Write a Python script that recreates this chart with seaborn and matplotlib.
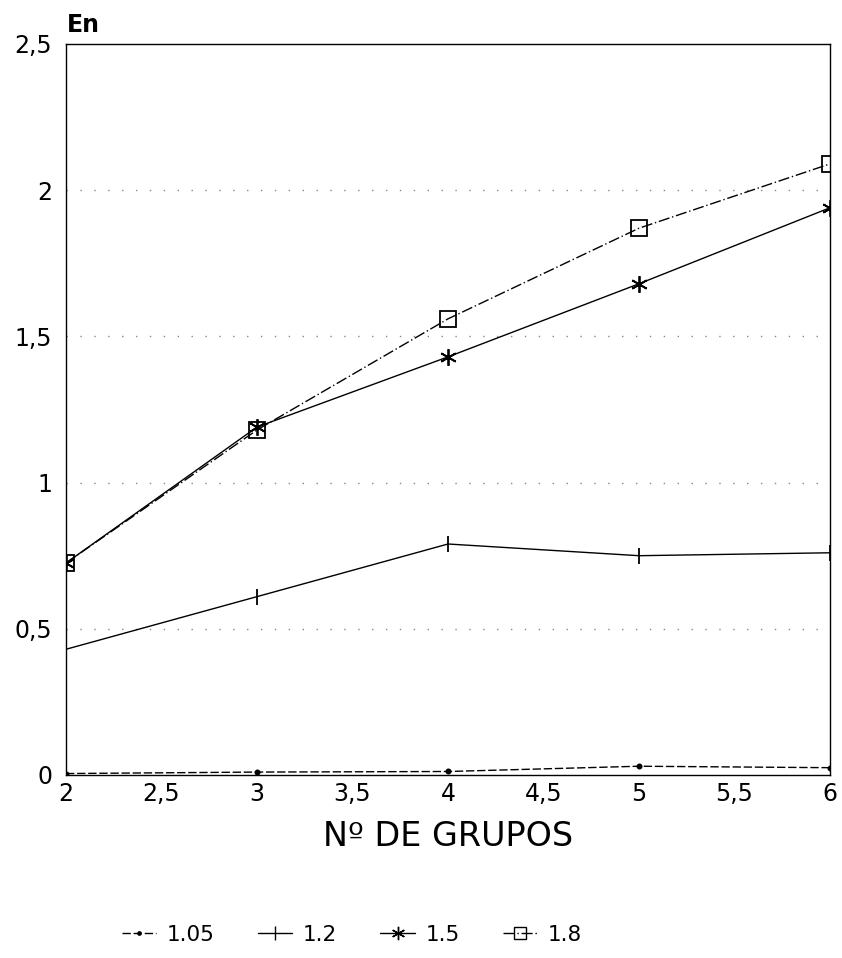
import matplotlib
matplotlib.use("Agg")
import matplotlib.pyplot as plt
import seaborn as sns
import pandas as pd
from matplotlib.ticker import FuncFormatter
from matplotlib.lines import Line2D

# ---- data ----
grupos = [2, 3, 4, 5, 6]
serie_labels = ["1.05", "1.2", "1.5", "1.8"]
en_105 = [0.005, 0.01, 0.012, 0.03, 0.025]
en_12 = [0.43, 0.61, 0.79, 0.75, 0.76]
en_15 = [0.725, 1.19, 1.43, 1.68, 1.94]
en_18 = [0.725, 1.18, 1.56, 1.87, 2.09]
x_ticks = [2, 2.5, 3, 3.5, 4, 4.5, 5, 5.5, 6]
y_ticks = [0, 0.5, 1, 1.5, 2, 2.5]

series = [en_105, en_12, en_15, en_18]
df = pd.DataFrame({
    "grupos": grupos * len(series),
    "En": sum(series, []),
    "serie": [lab for lab in serie_labels for _ in grupos],
})

sns.set_theme(style="white")
plt.rcParams["font.family"] = ["DejaVu Sans"]
plt.rcParams["text.color"] = "black"

fig = plt.figure(figsize=(8.42, 9.58), dpi=100)
ax = fig.add_axes([66 / 842, 1 - 775 / 958, (830 - 66) / 842, (775 - 44) / 958])

markers = {"1.05": "o", "1.2": "|", "1.5": (6, 2, 0), "1.8": "s"}
dashes = {"1.05": (6, 2), "1.2": "", "1.5": "", "1.8": (8, 2, 1, 2)}
msize = {"1.05": 3, "1.2": 12, "1.5": 12, "1.8": 11}

for lab in serie_labels:
    sub = df[df["serie"] == lab]
    sns.lineplot(data=sub, x="grupos", y="En", ax=ax, color="black",
                 linewidth=1.0, marker=markers[lab], markersize=msize[lab],
                 markerfacecolor="none" if lab == "1.8" else "black",
                 markeredgecolor="black", markeredgewidth=1.3,
                 dashes=dashes[lab] if dashes[lab] else (None, None),
                 label=lab, legend=False)

ax.set_xlim(2, 6)
ax.set_ylim(0, 2.5)
ax.set_xticks(x_ticks)
ax.set_yticks(y_ticks)
fmt = FuncFormatter(lambda v, p: (f"{v:g}").replace(".", ","))
ax.xaxis.set_major_formatter(fmt)
ax.yaxis.set_major_formatter(fmt)
ax.tick_params(axis="both", direction="in", length=8, width=1, color="black",
               labelsize=17, labelcolor="black")
ax.tick_params(axis="x", pad=5)
ax.tick_params(axis="y", pad=10)

for y in y_ticks[1:-1]:
    ax.axhline(y, color="#888888", linestyle=(0, (1, 9)), linewidth=1.0, zorder=0)

for s in ax.spines.values():
    s.set_visible(True)
    s.set_color("black")
    s.set_linewidth(1.0)

ax.set_xlabel("Nº DE GRUPOS", fontsize=24, labelpad=10, color="black")
ax.set_ylabel("")
ax.text(0.001, 1.01, "En", transform=ax.transAxes, fontsize=17,
        fontweight="bold", ha="left", va="bottom", color="black")

handles = []
for lab in serie_labels:
    h = Line2D([], [], color="black", linewidth=1.0, marker=markers[lab],
               markersize=msize[lab] * 0.8,
               markerfacecolor="none" if lab == "1.8" else "black",
               markeredgecolor="black", markeredgewidth=1.0,
               linestyle="-" if not dashes[lab] else (0, dashes[lab]))
    handles.append(h)
fig.legend(handles, serie_labels, loc="center", ncol=4,
           bbox_to_anchor=(352 / 842, 1 - 935 / 958), frameon=False,
           fontsize=15.5, handlelength=1.6, columnspacing=2.0, handletextpad=0.5,
           labelcolor="black")

fig.savefig("out.png", dpi=100)
